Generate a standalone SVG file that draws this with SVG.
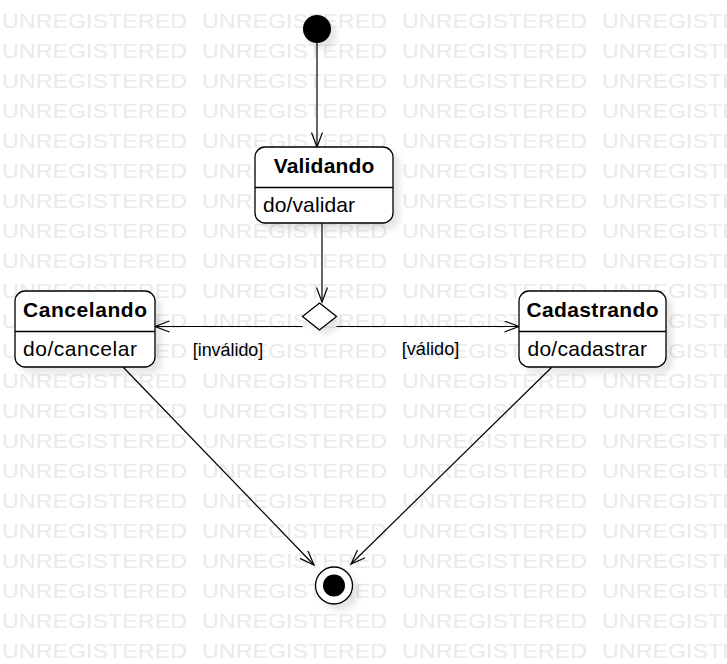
<svg xmlns="http://www.w3.org/2000/svg" width="727" height="664" viewBox="0 0 727 664">
<style>
.wm{font-family:"Liberation Sans",Arial,sans-serif;font-size:20.5px;fill:#eaeaea}
.st{fill:#fff;stroke:#000;stroke-width:1.3}
.dv{stroke:#000;stroke-width:1.3}
.tt{font-family:"Liberation Sans",Arial,sans-serif;font-size:21px;font-weight:bold;fill:#000;text-anchor:middle}
.bd{font-family:"Liberation Sans",Arial,sans-serif;font-size:21px;fill:#000}
.lb{font-family:"Liberation Sans",Arial,sans-serif;font-size:19px;fill:#000}
.cn{fill:none;stroke:#000;stroke-width:1.2;marker-end:url(#arr)}
</style>
<defs>
<filter id="sh" x="-30%" y="-30%" width="170%" height="170%">
<feGaussianBlur in="SourceAlpha" stdDeviation="3"/>
<feOffset dx="6" dy="6"/>
<feComponentTransfer><feFuncA type="linear" slope="0.1"/></feComponentTransfer>
<feMerge><feMergeNode/><feMergeNode in="SourceGraphic"/></feMerge>
</filter>
<marker id="arr" markerUnits="userSpaceOnUse" markerWidth="18" markerHeight="14" refX="15" refY="6" orient="auto">
<path d="M0.5,0.5 L15,6 L0.5,11.5" fill="none" stroke="#000" stroke-width="1.2"/>
</marker>
</defs>
<rect width="727" height="664" fill="#fff"/>
<g id="watermark" lengthAdjust="spacingAndGlyphs">
<text class="wm" x="2" y="28" textLength="185" lengthAdjust="spacingAndGlyphs">UNREGISTERED</text><text class="wm" x="202" y="28" textLength="185" lengthAdjust="spacingAndGlyphs">UNREGISTERED</text><text class="wm" x="402" y="28" textLength="185" lengthAdjust="spacingAndGlyphs">UNREGISTERED</text><text class="wm" x="602" y="28" textLength="185" lengthAdjust="spacingAndGlyphs">UNREGISTERED</text>
<text class="wm" x="2" y="58" textLength="185" lengthAdjust="spacingAndGlyphs">UNREGISTERED</text><text class="wm" x="202" y="58" textLength="185" lengthAdjust="spacingAndGlyphs">UNREGISTERED</text><text class="wm" x="402" y="58" textLength="185" lengthAdjust="spacingAndGlyphs">UNREGISTERED</text><text class="wm" x="602" y="58" textLength="185" lengthAdjust="spacingAndGlyphs">UNREGISTERED</text>
<text class="wm" x="2" y="88" textLength="185" lengthAdjust="spacingAndGlyphs">UNREGISTERED</text><text class="wm" x="202" y="88" textLength="185" lengthAdjust="spacingAndGlyphs">UNREGISTERED</text><text class="wm" x="402" y="88" textLength="185" lengthAdjust="spacingAndGlyphs">UNREGISTERED</text><text class="wm" x="602" y="88" textLength="185" lengthAdjust="spacingAndGlyphs">UNREGISTERED</text>
<text class="wm" x="2" y="118" textLength="185" lengthAdjust="spacingAndGlyphs">UNREGISTERED</text><text class="wm" x="202" y="118" textLength="185" lengthAdjust="spacingAndGlyphs">UNREGISTERED</text><text class="wm" x="402" y="118" textLength="185" lengthAdjust="spacingAndGlyphs">UNREGISTERED</text><text class="wm" x="602" y="118" textLength="185" lengthAdjust="spacingAndGlyphs">UNREGISTERED</text>
<text class="wm" x="2" y="148" textLength="185" lengthAdjust="spacingAndGlyphs">UNREGISTERED</text><text class="wm" x="202" y="148" textLength="185" lengthAdjust="spacingAndGlyphs">UNREGISTERED</text><text class="wm" x="402" y="148" textLength="185" lengthAdjust="spacingAndGlyphs">UNREGISTERED</text><text class="wm" x="602" y="148" textLength="185" lengthAdjust="spacingAndGlyphs">UNREGISTERED</text>
<text class="wm" x="2" y="178" textLength="185" lengthAdjust="spacingAndGlyphs">UNREGISTERED</text><text class="wm" x="202" y="178" textLength="185" lengthAdjust="spacingAndGlyphs">UNREGISTERED</text><text class="wm" x="402" y="178" textLength="185" lengthAdjust="spacingAndGlyphs">UNREGISTERED</text><text class="wm" x="602" y="178" textLength="185" lengthAdjust="spacingAndGlyphs">UNREGISTERED</text>
<text class="wm" x="2" y="208" textLength="185" lengthAdjust="spacingAndGlyphs">UNREGISTERED</text><text class="wm" x="202" y="208" textLength="185" lengthAdjust="spacingAndGlyphs">UNREGISTERED</text><text class="wm" x="402" y="208" textLength="185" lengthAdjust="spacingAndGlyphs">UNREGISTERED</text><text class="wm" x="602" y="208" textLength="185" lengthAdjust="spacingAndGlyphs">UNREGISTERED</text>
<text class="wm" x="2" y="238" textLength="185" lengthAdjust="spacingAndGlyphs">UNREGISTERED</text><text class="wm" x="202" y="238" textLength="185" lengthAdjust="spacingAndGlyphs">UNREGISTERED</text><text class="wm" x="402" y="238" textLength="185" lengthAdjust="spacingAndGlyphs">UNREGISTERED</text><text class="wm" x="602" y="238" textLength="185" lengthAdjust="spacingAndGlyphs">UNREGISTERED</text>
<text class="wm" x="2" y="268" textLength="185" lengthAdjust="spacingAndGlyphs">UNREGISTERED</text><text class="wm" x="202" y="268" textLength="185" lengthAdjust="spacingAndGlyphs">UNREGISTERED</text><text class="wm" x="402" y="268" textLength="185" lengthAdjust="spacingAndGlyphs">UNREGISTERED</text><text class="wm" x="602" y="268" textLength="185" lengthAdjust="spacingAndGlyphs">UNREGISTERED</text>
<text class="wm" x="2" y="298" textLength="185" lengthAdjust="spacingAndGlyphs">UNREGISTERED</text><text class="wm" x="202" y="298" textLength="185" lengthAdjust="spacingAndGlyphs">UNREGISTERED</text><text class="wm" x="402" y="298" textLength="185" lengthAdjust="spacingAndGlyphs">UNREGISTERED</text><text class="wm" x="602" y="298" textLength="185" lengthAdjust="spacingAndGlyphs">UNREGISTERED</text>
<text class="wm" x="2" y="328" textLength="185" lengthAdjust="spacingAndGlyphs">UNREGISTERED</text><text class="wm" x="202" y="328" textLength="185" lengthAdjust="spacingAndGlyphs">UNREGISTERED</text><text class="wm" x="402" y="328" textLength="185" lengthAdjust="spacingAndGlyphs">UNREGISTERED</text><text class="wm" x="602" y="328" textLength="185" lengthAdjust="spacingAndGlyphs">UNREGISTERED</text>
<text class="wm" x="2" y="358" textLength="185" lengthAdjust="spacingAndGlyphs">UNREGISTERED</text><text class="wm" x="202" y="358" textLength="185" lengthAdjust="spacingAndGlyphs">UNREGISTERED</text><text class="wm" x="402" y="358" textLength="185" lengthAdjust="spacingAndGlyphs">UNREGISTERED</text><text class="wm" x="602" y="358" textLength="185" lengthAdjust="spacingAndGlyphs">UNREGISTERED</text>
<text class="wm" x="2" y="388" textLength="185" lengthAdjust="spacingAndGlyphs">UNREGISTERED</text><text class="wm" x="202" y="388" textLength="185" lengthAdjust="spacingAndGlyphs">UNREGISTERED</text><text class="wm" x="402" y="388" textLength="185" lengthAdjust="spacingAndGlyphs">UNREGISTERED</text><text class="wm" x="602" y="388" textLength="185" lengthAdjust="spacingAndGlyphs">UNREGISTERED</text>
<text class="wm" x="2" y="418" textLength="185" lengthAdjust="spacingAndGlyphs">UNREGISTERED</text><text class="wm" x="202" y="418" textLength="185" lengthAdjust="spacingAndGlyphs">UNREGISTERED</text><text class="wm" x="402" y="418" textLength="185" lengthAdjust="spacingAndGlyphs">UNREGISTERED</text><text class="wm" x="602" y="418" textLength="185" lengthAdjust="spacingAndGlyphs">UNREGISTERED</text>
<text class="wm" x="2" y="448" textLength="185" lengthAdjust="spacingAndGlyphs">UNREGISTERED</text><text class="wm" x="202" y="448" textLength="185" lengthAdjust="spacingAndGlyphs">UNREGISTERED</text><text class="wm" x="402" y="448" textLength="185" lengthAdjust="spacingAndGlyphs">UNREGISTERED</text><text class="wm" x="602" y="448" textLength="185" lengthAdjust="spacingAndGlyphs">UNREGISTERED</text>
<text class="wm" x="2" y="478" textLength="185" lengthAdjust="spacingAndGlyphs">UNREGISTERED</text><text class="wm" x="202" y="478" textLength="185" lengthAdjust="spacingAndGlyphs">UNREGISTERED</text><text class="wm" x="402" y="478" textLength="185" lengthAdjust="spacingAndGlyphs">UNREGISTERED</text><text class="wm" x="602" y="478" textLength="185" lengthAdjust="spacingAndGlyphs">UNREGISTERED</text>
<text class="wm" x="2" y="508" textLength="185" lengthAdjust="spacingAndGlyphs">UNREGISTERED</text><text class="wm" x="202" y="508" textLength="185" lengthAdjust="spacingAndGlyphs">UNREGISTERED</text><text class="wm" x="402" y="508" textLength="185" lengthAdjust="spacingAndGlyphs">UNREGISTERED</text><text class="wm" x="602" y="508" textLength="185" lengthAdjust="spacingAndGlyphs">UNREGISTERED</text>
<text class="wm" x="2" y="538" textLength="185" lengthAdjust="spacingAndGlyphs">UNREGISTERED</text><text class="wm" x="202" y="538" textLength="185" lengthAdjust="spacingAndGlyphs">UNREGISTERED</text><text class="wm" x="402" y="538" textLength="185" lengthAdjust="spacingAndGlyphs">UNREGISTERED</text><text class="wm" x="602" y="538" textLength="185" lengthAdjust="spacingAndGlyphs">UNREGISTERED</text>
<text class="wm" x="2" y="568" textLength="185" lengthAdjust="spacingAndGlyphs">UNREGISTERED</text><text class="wm" x="202" y="568" textLength="185" lengthAdjust="spacingAndGlyphs">UNREGISTERED</text><text class="wm" x="402" y="568" textLength="185" lengthAdjust="spacingAndGlyphs">UNREGISTERED</text><text class="wm" x="602" y="568" textLength="185" lengthAdjust="spacingAndGlyphs">UNREGISTERED</text>
<text class="wm" x="2" y="598" textLength="185" lengthAdjust="spacingAndGlyphs">UNREGISTERED</text><text class="wm" x="202" y="598" textLength="185" lengthAdjust="spacingAndGlyphs">UNREGISTERED</text><text class="wm" x="402" y="598" textLength="185" lengthAdjust="spacingAndGlyphs">UNREGISTERED</text><text class="wm" x="602" y="598" textLength="185" lengthAdjust="spacingAndGlyphs">UNREGISTERED</text>
<text class="wm" x="2" y="628" textLength="185" lengthAdjust="spacingAndGlyphs">UNREGISTERED</text><text class="wm" x="202" y="628" textLength="185" lengthAdjust="spacingAndGlyphs">UNREGISTERED</text><text class="wm" x="402" y="628" textLength="185" lengthAdjust="spacingAndGlyphs">UNREGISTERED</text><text class="wm" x="602" y="628" textLength="185" lengthAdjust="spacingAndGlyphs">UNREGISTERED</text>
<text class="wm" x="2" y="658" textLength="185" lengthAdjust="spacingAndGlyphs">UNREGISTERED</text><text class="wm" x="202" y="658" textLength="185" lengthAdjust="spacingAndGlyphs">UNREGISTERED</text><text class="wm" x="402" y="658" textLength="185" lengthAdjust="spacingAndGlyphs">UNREGISTERED</text><text class="wm" x="602" y="658" textLength="185" lengthAdjust="spacingAndGlyphs">UNREGISTERED</text>
</g>
<g id="connectors">
<path class="cn" d="M317,43 L317,147"/>
<path class="cn" d="M322,223 L322,302"/>
<path class="cn" d="M302.5,326.5 L155,326.5"/>
<path class="cn" d="M336.5,326.5 L519,326.5"/>
<path class="cn" d="M123,367 L314,565"/>
<path class="cn" d="M552,367 L351,564"/>
<text class="lb" x="192.7" y="356" textLength="70.6" lengthAdjust="spacingAndGlyphs">[inválido]</text>
<text class="lb" x="401.7" y="355" textLength="57.6" lengthAdjust="spacingAndGlyphs">[válido]</text>
</g>
<g id="initial">
<circle cx="317" cy="29" r="14" fill="#000" filter="url(#sh)"/>
</g>
<g id="validando">
<rect class="st" x="255" y="147" width="138" height="76" rx="10" filter="url(#sh)"/>
<line class="dv" x1="255" y1="187.5" x2="393" y2="187.5"/>
<text class="tt" x="324" y="173" textLength="100.7">Validando</text>
<text class="bd" x="263" y="212" textLength="92">do/validar</text>
</g>
<g id="decisao">
<polygon class="st" points="319.5,303 336.5,316.5 319.5,330 302.5,316.5" filter="url(#sh)"/>
</g>
<g id="cancelando">
<rect class="st" x="15" y="291" width="140" height="76" rx="10" filter="url(#sh)"/>
<line class="dv" x1="15" y1="331.5" x2="155" y2="331.5"/>
<text class="tt" x="85" y="317" textLength="124">Cancelando</text>
<text class="bd" x="23" y="356" textLength="114">do/cancelar</text>
</g>
<g id="cadastrando">
<rect class="st" x="519" y="291" width="147" height="76" rx="10" filter="url(#sh)"/>
<line class="dv" x1="519" y1="331.5" x2="666" y2="331.5"/>
<text class="tt" x="592.5" y="317" textLength="132">Cadastrando</text>
<text class="bd" x="527.5" y="356" textLength="119.5">do/cadastrar</text>
</g>
<g id="final">
<circle class="st" cx="334" cy="585.5" r="18.5" filter="url(#sh)"/>
<circle cx="334" cy="585.5" r="11" fill="#000"/>
</g>
</svg>
